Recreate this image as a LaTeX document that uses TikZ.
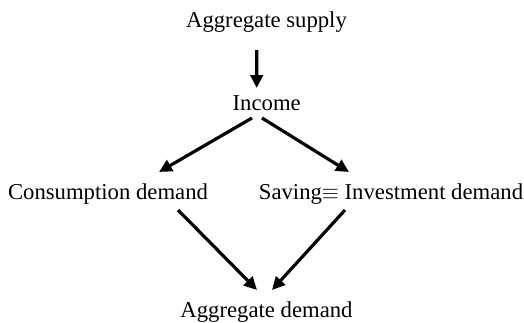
\documentclass[tikz,border=0pt]{standalone}
\usepackage{fontspec}
\setmainfont{Liberation Serif}
\usetikzlibrary{arrows.meta}
\begin{document}
\begin{tikzpicture}[x=0.5pt,y=-0.5pt,
  lbl/.style={inner sep=0pt, anchor=base, font=\fontsize{11.35}{13}\selectfont},
  arr/.style={line width=1.6pt, -{Triangle[length=6.5pt,width=6.2pt]}}]
\useasboundingbox (0,0) rectangle (524,322);
\node[lbl] (sup) at (266.5,27) {Aggregate supply};
\node[lbl] (inc) at (266.7,110) {Income};
\node[lbl] (cons) at (108,199) {Consumption demand};
\node[lbl] (sav) at (391,199) {Saving$\equiv$ Investment demand};
\node[lbl] (dem) at (266.5,317) {Aggregate demand};
\draw[arr] ([shift={(-9.8,23)}]sup.base) -- ([shift={(-10,-22)}]inc.base);
\draw[arr] ([shift={(-14.7,8)}]inc.base) -- ([shift={(51,-27)}]cons.base);
\draw[arr] ([shift={(-4.7,8)}]inc.base) -- ([shift={(-42,-27)}]sav.base);
\draw[arr] ([shift={(70,11)}]cons.base) -- ([shift={(-9.5,-27)}]dem.base);
\draw[arr] ([shift={(-46,11)}]sav.base) -- ([shift={(5.5,-27)}]dem.base);
\end{tikzpicture}
\end{document}
